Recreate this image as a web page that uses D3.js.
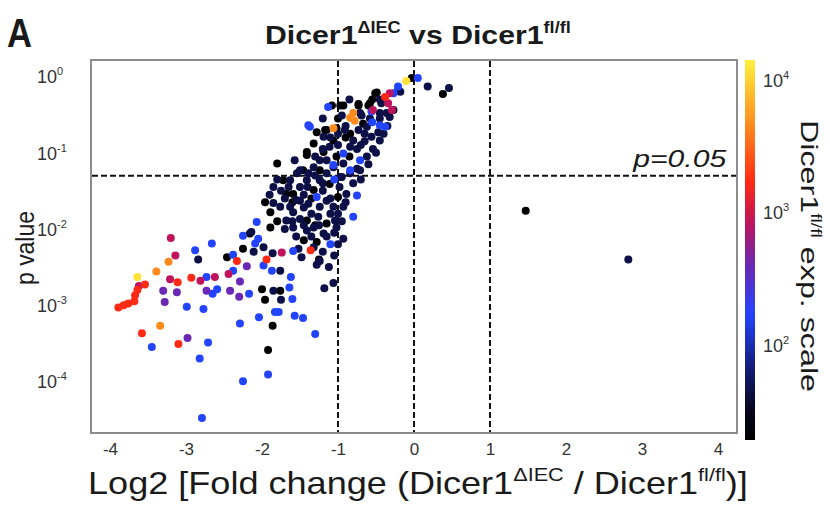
<!DOCTYPE html>
<html><head><meta charset="utf-8">
<script src="https://cdn.jsdelivr.net/npm/d3@7"></script>
<style>body{margin:0;background:#fff} text{font-family:"Liberation Sans",Arial,Helvetica,sans-serif}</style>
</head><body><svg id="c" width="830" height="505"></svg>
<script>
// ---------- data ----------
const xTicks = [-4, -3, -2, -1, 0, 1, 2, 3, 4];
const yTickExponents = [0, -1, -2, -3, -4];
const cbTickExponents = [4, 3, 2];
const refLinesX = [-1, 0, 1];
const pThreshold = 0.05;
// expression level (Dicer1 fl/fl) that each colour group represents
const expressionLevels = {black: 20, navy: 45, blue: 170, purple: 400, crimson: 850, red: 1700, orange: 4500, yellow: 12000};
// each gene: [log2 fold change, log10 p value]
const blackGenes = [[-2.46,-2.37],[-2.00,-2.79],[-1.96,-2.93],[-1.92,-3.59],[-1.86,-3.27],[-1.76,-2.81],[-2.25,-2.26],[-2.16,-2.06],[-1.89,-1.98],
 [-1.80,-1.14],[-1.96,-1.65],[-1.89,-1.78],[-1.59,-1.54],[-1.46,-1.23],[-1.19,-0.99],[-1.06,-0.84],[-0.84,-0.75],[-0.67,-0.62],[-0.60,-0.38],[-0.51,-0.22],
 [-0.73,-0.38],[-0.93,-0.38],[-1.08,-0.38],[-1.02,-0.68],[-1.15,-0.70],[-1.28,-0.73],[-1.41,-1.03],[-1.72,-1.36],[-1.68,-1.54],[-1.00,-1.58],[-1.15,-1.93],
 [-1.41,-1.89],[-1.28,-2.17],[-1.11,-1.41],[-1.32,-1.49],[-1.24,-1.23],[-1.02,-1.05],[-0.03,-0.02],[0.38,-0.23],[-0.49,-0.21],[-0.58,-0.35],[-0.73,-0.36],
 [-0.97,-0.38],[-1.17,-0.70],[-1.32,-0.88],[-1.41,-0.99],[-0.90,-0.80],[-1.30,-1.95],[-1.60,-1.65],[-1.45,-2.15],[1.47,-1.76],
 [-1.80,-1.90],[-1.25,-2.40],[-1.00,-0.55],[-0.85,-1.05],[-0.55,-0.30],[-1.35,-1.60]];
const navyGenes = [[-2.84,-2.40],[-1.85,-2.81],[-1.75,-2.93],[-1.76,-2.55],[-1.86,-2.32],[-1.98,-2.24],[-2.11,-2.30],[-1.18,-2.78],[-1.06,-2.71],[-1.24,-2.42],
 [-1.28,-2.47],[-1.48,-2.37],[-1.32,-2.24],[-1.52,-2.26],[-1.85,-1.66],[-1.76,-1.71],[-1.63,-1.71],[-1.50,-1.45],[-1.54,-1.27],[-1.32,-1.19],[-1.24,-1.10],
 [-1.11,-0.92],[-1.00,-0.90],[-0.84,-0.92],[-0.80,-0.84],[-0.73,-0.70],[-0.69,-0.51],[-0.58,-0.55],[-0.95,-0.51],[-1.19,-0.79],[-1.57,-1.10],[-1.63,-1.36],
 [-1.50,-1.63],[-1.39,-1.67],[-1.24,-1.71],[-1.15,-1.63],[-1.06,-1.71],[-0.89,-1.54],[-0.93,-1.71],[-1.04,-1.89],[-1.26,-1.84],[-1.35,-1.80],[-1.50,-1.87],
 [-1.59,-1.78],[-1.68,-1.89],[-1.59,-1.98],[-1.41,-2.02],[-1.32,-1.98],[-1.19,-2.06],[-1.02,-1.98],[-0.93,-2.13],[-0.97,-1.32],[-0.84,-1.27],[-0.75,-1.21],
 [-0.62,-1.05],[-0.54,-0.95],[-0.45,-0.84],[-0.47,-0.73],[-0.32,-0.53],[-0.27,-0.44],[-0.21,-0.18],[-0.45,-0.48],[-1.15,-1.27],[-1.24,-1.36],[-1.41,-1.36],
 [-1.06,-1.19],[-0.93,-1.14],[0.18,-0.13],[0.46,-0.15],[-0.18,-0.20],[-0.43,-0.35],[-0.36,-0.48],[-0.71,-0.48],[-0.91,-0.70],[-0.62,-0.66],[-0.56,-0.79],
 [-0.71,-1.23],[-0.95,-1.32],[-1.39,-1.27],[-1.50,-1.23],[-2.14,-2.04],[-1.45,-1.55],[-1.20,-1.50],[-1.10,-1.80],[-0.98,-1.45],[-1.15,-1.10],[-0.70,-0.90],
 [-0.65,-0.75],[-0.45,-0.55],[-1.70,-1.60],[-1.55,-2.10],[-1.20,-2.30],[2.82,-2.40],
 [-1.80,-1.35],[-1.75,-1.50],[-1.65,-1.45],[-1.55,-1.62],[-1.45,-1.72],[-1.25,-1.95],[-1.15,-2.10],[-1.05,-2.05],[-1.00,-1.80],[-1.10,-1.60],
 [-1.20,-1.40],[-1.30,-1.30],[-1.40,-1.45],[-1.60,-1.90],[-1.70,-2.00],[-1.90,-1.55],[-1.85,-1.45],[-1.35,-2.10],[-1.45,-1.95],[-1.12,-2.50],
 [-1.05,-2.35],[-1.00,-2.20],[-0.95,-1.90],[-0.90,-1.65],[-1.30,-1.05],[-1.20,-0.95],[-1.10,-0.80],[-1.00,-0.75],[-0.90,-0.65],[-0.75,-0.95],
 [-0.65,-0.85],[-0.60,-1.15],[-0.50,-1.00],[-0.40,-0.75],[-0.35,-0.65],[-0.45,-0.30],[-0.85,-0.30],[-1.20,-0.55],[-0.80,-1.40],[-0.70,-1.35]];
const blueGenes = [[-2.73,-2.63],[-2.59,-2.79],[-2.65,-2.85],[-2.77,-3.05],[-2.99,-3.02],[-2.38,-2.55],[-2.17,-2.85],[-2.38,-2.34],[-2.88,-2.28],[-2.66,-2.19],
 [-3.45,-3.55],[-2.71,-3.49],[-2.82,-3.70],[-2.29,-3.24],[-2.25,-4.00],[-2.79,-4.48],[-2.04,-3.16],[-1.92,-3.91],[-1.83,-3.09],[-1.78,-3.09],[-1.64,-2.77],
 [-1.60,-2.92],[-1.62,-2.63],[-1.57,-3.14],[-1.46,-3.17],[-1.30,-3.38],[-1.87,-2.55],[-1.98,-2.48],[-2.25,-2.09],[-2.09,-2.19],[-2.07,-1.91],[-1.59,-2.29],
 [-0.93,-1.01],[-1.13,-0.40],[-1.39,-0.64],[-1.28,-1.58],[-0.75,-1.56],[-0.80,-1.84],[-0.71,-1.10],[-0.38,-0.66],[-0.27,-0.22],[0.05,-0.02],[-0.21,-0.13],
 [-0.56,-0.46],[-0.45,-0.64],[-1.37,-0.66],[-1.06,-1.16],[-0.84,-1.23],[-2.05,-2.13],[-1.05,-1.35],[-0.55,-0.60],[-1.10,-2.20]];
const purpleGenes = [[-3.30,-2.81],[-3.28,-2.96],[-3.12,-2.83],[-2.73,-2.81],[-2.42,-2.81],[-2.29,-2.69],[-2.30,-2.89],[-2.20,-2.49],[-2.98,-3.43]];
const crimsonGenes = [[-3.62,-2.75],[-3.14,-2.35],[-3.20,-2.12],[-3.21,-2.66],[-2.81,-2.68],[-2.62,-2.63],[-2.44,-2.59],[-1.74,-2.31],[-0.34,-0.35],[-0.54,-0.44],[-0.32,-0.22],[-0.29,-0.44]];
const redGenes = [[-3.89,-3.03],[-3.82,-3.00],[-3.76,-2.98],[-3.68,-2.95],[-3.67,-2.87],[-3.64,-2.80],[-3.54,-2.73],[-3.11,-2.70],[-2.93,-2.64],[-2.33,-2.42],
 [-3.58,-3.37],[-3.10,-3.51],[-1.94,-2.40],[-1.36,-2.28],[-0.38,-0.27]];
const orangeGenes = [[-3.39,-2.56],[-3.23,-2.43],[-3.34,-3.27],[-0.84,-0.54],[-0.78,-0.58],[-0.80,-0.48],[-1.06,-0.68]];
const yellowGenes = [[-3.64,-2.63],[-0.10,-0.06]];

// colour map of the colour bar (position 0..1 -> colour)
const cmapStops = [0, 0.08, 0.18, 0.33, 0.46, 0.575, 0.68, 0.83, 1];
const cmapColors = ["#000000", "#07071f", "#121a70", "#2244ff", "#6a28b4", "#c0145a", "#ff2a14", "#ff8c1e", "#fff03c"];

// ---------- build ----------
const groups = [["black", blackGenes], ["navy", navyGenes], ["blue", blueGenes], ["purple", purpleGenes],
  ["crimson", crimsonGenes], ["red", redGenes], ["orange", orangeGenes], ["yellow", yellowGenes]];
const genes = [];
groups.forEach(([k, arr]) => arr.forEach(g => genes.push({fc: g[0], p: Math.pow(10, g[1]), e: expressionLevels[k]})));

const svg = d3.select("#c");
const L = 91, R = 737, T = 60, B = 433;
const x = d3.scaleLinear().domain([-4.25, 4.25]).range([L, R]);
const y = d3.scaleLog().domain([Math.pow(10, 0.217), Math.pow(10, -4.678)]).range([T, B]);
const cb = d3.scaleLog().domain([19.3, 14100]).range([440, 60]);
const tPos = d3.scaleLog().domain([19.3, 14100]).range([0, 1]);
const cmap = d3.scaleLinear().domain(cmapStops).range(cmapColors).interpolate(d3.interpolateRgb);
const color = e => cmap(tPos(e));

function richText(g, parts, size, weight, style) {
  const t = g.append("text").attr("font-size", size).attr("fill", "#1a1a1a");
  if (weight) t.attr("font-weight", weight);
  if (style) t.attr("font-style", style);
  let prevSup = false;
  parts.forEach(([s, sup]) => {
    const ts = t.append("tspan").text(s);
    if (sup && !prevSup) ts.attr("font-size", size * 0.6).attr("dy", -size * 0.42);
    else if (!sup && prevSup) ts.attr("dy", size * 0.42);
    prevSup = sup;
  });
  return t;
}
function fitted(parts, size, opts) {
  const g = svg.append("g");
  const inner = g.append("g");
  const t = richText(inner, parts, size, opts.weight, opts.style);
  const bb = t.node().getBBox();
  const k = opts.width / bb.width;
  let ax = bb.x;
  if (opts.anchor === "middle") ax = bb.x + bb.width / 2;
  if (opts.anchor === "end") ax = bb.x + bb.width;
  t.attr("transform", `translate(${-ax},0)`);
  inner.attr("transform", `scale(${k},1)`);
  g.attr("transform", `translate(${opts.x},${opts.y}) rotate(${opts.rotate || 0})`);
  return g;
}

// frame
svg.append("rect").attr("x", L).attr("y", T).attr("width", R - L).attr("height", B - T)
  .attr("fill", "none").attr("stroke", "#8c8c8c").attr("stroke-width", 2);

// reference lines
svg.selectAll("line.v").data(refLinesX).join("line")
  .attr("x1", d => x(d)).attr("x2", d => x(d)).attr("y1", T + 1).attr("y2", B - 1)
  .attr("stroke", "#111").attr("stroke-width", 2).attr("stroke-dasharray", "6,3");
svg.append("line").attr("x1", L + 1).attr("x2", R - 1).attr("y1", y(pThreshold)).attr("y2", y(pThreshold))
  .attr("stroke", "#111").attr("stroke-width", 2).attr("stroke-dasharray", "6,3");

// points
svg.append("g").selectAll("circle").data(genes).join("circle")
  .attr("cx", d => x(d.fc)).attr("cy", d => y(d.p)).attr("r", 4)
  .attr("fill", d => color(d.e));

// x axis
const xa = svg.append("g").attr("transform", `translate(0,${B})`)
  .call(d3.axisBottom(x).tickValues(xTicks).tickSize(0).tickPadding(10).tickFormat(d => String(d)));
xa.select(".domain").remove();
xa.selectAll("text").attr("font-size", 17).attr("fill", "#333").attr("font-family", null);

// y axis
const ya = svg.append("g").attr("transform", `translate(${L},0)`)
  .call(d3.axisLeft(y).tickValues(yTickExponents.map(e => Math.pow(10, e))).tickSize(0).tickFormat(() => ""));
ya.select(".domain").remove();
ya.selectAll(".tick text").each(function(d) {
  const t = d3.select(this).attr("text-anchor", "start").attr("x", -54).attr("dy", "0.35em")
    .attr("font-size", 18).attr("fill", "#333").attr("font-family", null);
  t.append("tspan").text("10");
  t.append("tspan").text(String(Math.round(Math.log10(d)))).attr("font-size", 11).attr("dy", -8);
});

// colour bar
const defs = svg.append("defs");
const grad = defs.append("linearGradient").attr("id", "cbg").attr("x1", 0).attr("x2", 0).attr("y1", 1).attr("y2", 0);
d3.range(0, 1.0001, 0.02).forEach(t => grad.append("stop").attr("offset", t).attr("stop-color", cmap(t)));
svg.append("rect").attr("x", 745).attr("y", 60).attr("width", 10).attr("height", 380).attr("fill", "url(#cbg)");
const ca = svg.append("g").attr("transform", "translate(755,0)")
  .call(d3.axisRight(cb).tickValues(cbTickExponents.map(e => Math.pow(10, e))).tickSize(0).tickFormat(() => ""));
ca.select(".domain").remove();
ca.selectAll(".tick text").each(function(d) {
  const t = d3.select(this).attr("text-anchor", "start").attr("x", 8).attr("dy", "0.35em")
    .attr("font-size", 18).attr("fill", "#333").attr("font-family", null);
  t.append("tspan").text("10");
  t.append("tspan").text(String(Math.round(Math.log10(d)))).attr("font-size", 11).attr("dy", -8);
});

// texts
fitted([["A", false]], 40, {weight: "bold", width: 25, anchor: "start", x: 7, y: 47});
fitted([["Dicer1", false], ["\u0394IEC", true], [" vs Dicer1", false], ["fl/fl", true]], 26,
  {weight: "bold", width: 306, anchor: "middle", x: 418, y: 44});
fitted([["Log2 [Fold change (Dicer1", false], ["\u0394IEC", true], [" / Dicer1", false], ["fl/fl", true], [")]", false]], 32,
  {width: 660, anchor: "middle", x: 418, y: 494});
fitted([["p value", false]], 25, {width: 74, anchor: "middle", x: 34, y: 248, rotate: -90});
fitted([["Dicer1", false], ["fl/fl", true], [" exp. scale", false]], 23, {width: 272, anchor: "middle", x: 801, y: 256, rotate: 90});
fitted([["p=0.05", false]], 24, {style: "italic", width: 95, anchor: "end", x: 727, y: 167});
</script></body></html>
